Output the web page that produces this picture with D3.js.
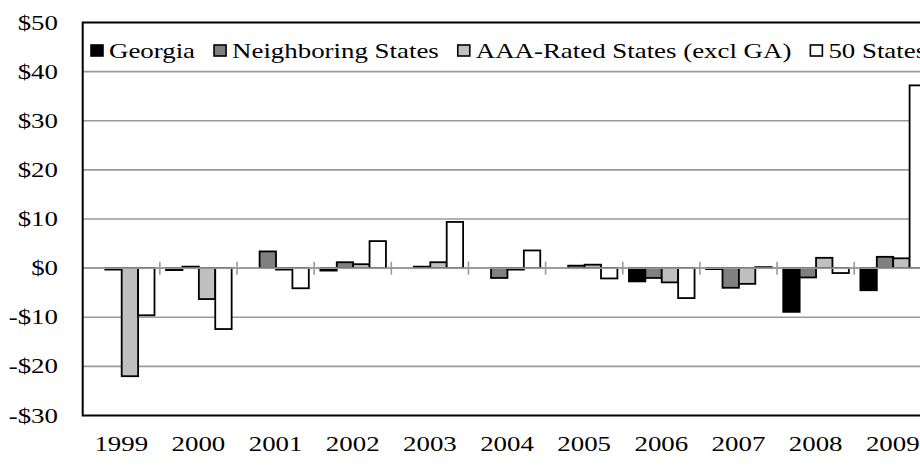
<!DOCTYPE html>
<html>
<head>
<meta charset="utf-8">
<script src="https://cdn.jsdelivr.net/npm/d3@7"></script>
<style>
  html, body { margin: 0; padding: 0; background: #fff; overflow: hidden; }
  text { font-family: "Liberation Serif", "Times New Roman", serif; fill: #000; }
</style>
</head>
<body>
<div id="chart"></div>
<script>
(function () {
  'use strict';

  // Data (dollars)
  const years = ['1999', '2000', '2001', '2002', '2003', '2004', '2005', '2006', '2007', '2008', '2009'];
  const seriesNames = ['Georgia', 'Neighboring States', 'AAA-Rated States (excl GA)', '50 States'];
  const georgia    = [null, -0.4, null, -0.5, null, null, null, -2.7, -0.2, -8.9, -4.5];
  const neighbors  = [-0.3, 0.3, 3.4, 1.2, 0.3, -2.0, 0.5, -2.0, -4.0, -1.9, 2.3];
  const aaaStates  = [-22.0, -6.3, -0.3, 0.8, 1.2, -0.3, 0.7, -2.9, -3.2, 2.1, 2.0];
  const allStates  = [-9.6, -12.4, -4.1, 5.5, 9.4, 3.6, -2.1, -6.1, 0.2, -1.0, 37.2];
  const yTicks = [-30, -20, -10, 0, 10, 20, 30, 40, 50];

  const seriesValues = [georgia, neighbors, aaaStates, allStates];
  const COLORS = ['#000000', '#808080', '#c0c0c0', '#ffffff'];
  const STRETCH = 1.28; // text in the reference is widened horizontally

  const width = 920, height = 469;
  const plot = { left: 82.7, top: 22.5, bottom: 415.5, band: 77.15 };
  const plotRight = plot.left + plot.band * years.length;

  const svg = d3.select('#chart').append('svg')
    .attr('width', width).attr('height', height);

  const x0 = d3.scaleBand().domain(years).range([plot.left, plotRight]);
  const x1 = d3.scaleBand().domain(seriesNames).range([6.2, 71.8]);
  const y = d3.scaleLinear().domain([-30, 50]).range([plot.bottom, plot.top]);

  // gridlines
  svg.append('g').selectAll('line')
    .data(yTicks.filter(t => t !== -30 && t !== 50))
    .join('line')
    .attr('x1', plot.left).attr('x2', plotRight)
    .attr('y1', d => y(d)).attr('y2', d => y(d))
    .attr('stroke', '#9a9a9a').attr('stroke-width', 1.6);

  // bars
  const rows = years.map((yr, i) => ({ year: yr, vals: seriesValues.map(s => s[i]) }));
  svg.append('g').selectAll('g')
    .data(rows)
    .join('g')
    .attr('transform', d => `translate(${x0(d.year)},0)`)
    .selectAll('rect')
    .data(d => d.vals.map((v, k) => ({ v, k })).filter(e => e.v !== null))
    .join('rect')
    .attr('x', e => x1(seriesNames[e.k]))
    .attr('width', x1.bandwidth())
    .attr('y', e => y(Math.max(0, e.v)))
    .attr('height', e => Math.abs(y(e.v) - y(0)))
    .attr('fill', e => COLORS[e.k])
    .attr('stroke', '#000').attr('stroke-width', 1.8);

  // category axis at zero with ticks between groups
  const zeroY = y(0);
  svg.append('line')
    .attr('x1', plot.left).attr('x2', plotRight)
    .attr('y1', zeroY).attr('y2', zeroY)
    .attr('stroke', '#9a9a9a').attr('stroke-width', 1.8);
  svg.append('g').selectAll('line')
    .data(years.slice(1))
    .join('line')
    .attr('x1', d => x0(d)).attr('x2', d => x0(d))
    .attr('y1', zeroY - 6.5).attr('y2', zeroY + 6.5)
    .attr('stroke', '#9a9a9a').attr('stroke-width', 1.6);

  // plot border
  svg.append('path')
    .attr('d', `M${plotRight + 10},${plot.top}H${plot.left}V${plot.bottom}H${plotRight + 10}`)
    .attr('fill', 'none').attr('stroke', '#000').attr('stroke-width', 2);

  // y labels
  svg.append('g').selectAll('text')
    .data(yTicks)
    .join('text')
    .attr('transform', d => `translate(58,${y(d) + 7}) scale(${STRETCH},1)`)
    .attr('text-anchor', 'end')
    .style('font-size', '21px')
    .text(d => (d < 0 ? '-$' : '$') + Math.abs(d));

  // x labels
  svg.append('g').selectAll('text')
    .data(years)
    .join('text')
    .attr('transform', d => `translate(${x0(d) + x0.bandwidth() / 2},451) scale(${STRETCH},1)`)
    .attr('text-anchor', 'middle')
    .style('font-size', '21px')
    .text(d => d);

  // legend
  const legend = svg.append('g');
  let lx = 91;
  seriesNames.forEach((name, k) => {
    legend.append('rect')
      .attr('x', lx).attr('y', 45).attr('width', 12).attr('height', 11)
      .attr('fill', COLORS[k]).attr('stroke', '#000').attr('stroke-width', 1.6);
    const t = legend.append('text')
      .attr('transform', `translate(${lx + 18},57.5) scale(${STRETCH},1)`)
      .style('font-size', '21px')
      .text(name);
    lx += 18 + t.node().getComputedTextLength() * STRETCH + 19;
  });
})();
</script>
</body>
</html>
